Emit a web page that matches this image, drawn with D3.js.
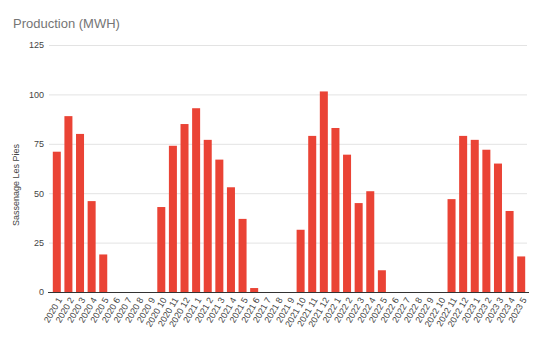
<!DOCTYPE html>
<html>
<head>
<meta charset="utf-8">
<script src="https://cdn.jsdelivr.net/npm/d3@7"></script>
<style>
  body { margin: 0; background: #fff; }
  text { font-family: "Liberation Sans", Arial, sans-serif; }
</style>
</head>
<body>
<svg id="chart" width="542" height="340"></svg>
<script>
// Monthly production, Sassenage Les Pies (MWh)
const months = [
  "2020 1","2020 2","2020 3","2020 4","2020 5","2020 6","2020 7","2020 8","2020 9","2020 10","2020 11","2020 12",
  "2021 1","2021 2","2021 3","2021 4","2021 5","2021 6","2021 7","2021 8","2021 9","2021 10","2021 11","2021 12",
  "2022 1","2022 2","2022 3","2022 4","2022 5","2022 6","2022 7","2022 8","2022 9","2022 10","2022 11","2022 12",
  "2023 1","2023 2","2023 3","2023 4","2023 5"
];
const production = [
  71, 89, 80, 46, 19, 0, 0, 0, 0, 43, 74, 85,
  93, 77, 67, 53, 37, 2, 0, 0, 0, 31.5, 79, 101.5,
  83, 69.5, 45, 51, 11, 0, 0, 0, 0, 0, 47, 79,
  77, 72, 65, 41, 18
];
const yTicks = [0, 25, 50, 75, 100, 125];

const svg = d3.select("#chart");
const margin = { left: 51, right: 15, top: 45, bottom: 48 };
const W = 542, H = 340;

const x = d3.scaleBand()
  .domain(months)
  .range([margin.left, W - margin.right])
  .paddingInner(0.31)
  .paddingOuter(0.155);

const y = d3.scaleLinear()
  .domain([0, 125])
  .range([H - margin.bottom, margin.top]);

// Title
svg.append("text")
  .attr("x", 13).attr("y", 28)
  .attr("fill", "#757575")
  .attr("font-size", 13)
  .text("Production (MWH)");

// Gridlines and y labels
const yAxis = d3.axisLeft(y)
  .tickValues(yTicks)
  .tickSize(-(W - margin.right - margin.left + 2))
  .tickPadding(5);

const gy = svg.append("g")
  .attr("transform", `translate(${margin.left - 2},0)`)
  .call(yAxis);
gy.select(".domain").remove();
gy.selectAll(".tick line").attr("stroke", "#e3e3e3");
gy.selectAll(".tick text")
  .attr("fill", "#444")
  .attr("font-size", 9);

// Y-axis title
svg.append("text")
  .attr("transform", "translate(19,185) rotate(-90)")
  .attr("text-anchor", "middle")
  .attr("fill", "#444")
  .attr("font-size", 9)
  .text("Sassenage Les Pies");

// Bars
svg.append("g")
  .selectAll("rect")
  .data(months.map((m, i) => ({ m, v: production[i] })))
  .join("rect")
  .attr("x", d => x(d.m))
  .attr("y", d => y(d.v))
  .attr("width", x.bandwidth())
  .attr("height", d => y(0) - y(d.v))
  .attr("fill", "#ea4335");

// Baseline and x labels
const xAxis = d3.axisBottom(x).tickSize(0).tickPadding(0);
const gx = svg.append("g")
  .attr("transform", `translate(0,${y(0)})`)
  .call(xAxis);
gx.select(".domain")
  .attr("d", `M${margin.left - 2},0.5H${W - margin.right + 2}`)
  .attr("stroke", "#333");
gx.selectAll(".tick text")
  .attr("fill", "#444")
  .attr("font-size", 9)
  .attr("text-anchor", "end")
  .attr("transform", "translate(3,6) rotate(-60)")
  .attr("dy", "0.35em");

// Small tick mark at zero on the y axis
svg.append("line")
  .attr("x1", margin.left - 3).attr("x2", margin.left + 2)
  .attr("y1", y(0) + 0.5).attr("y2", y(0) + 0.5)
  .attr("stroke", "#333");
</script>
</body>
</html>
